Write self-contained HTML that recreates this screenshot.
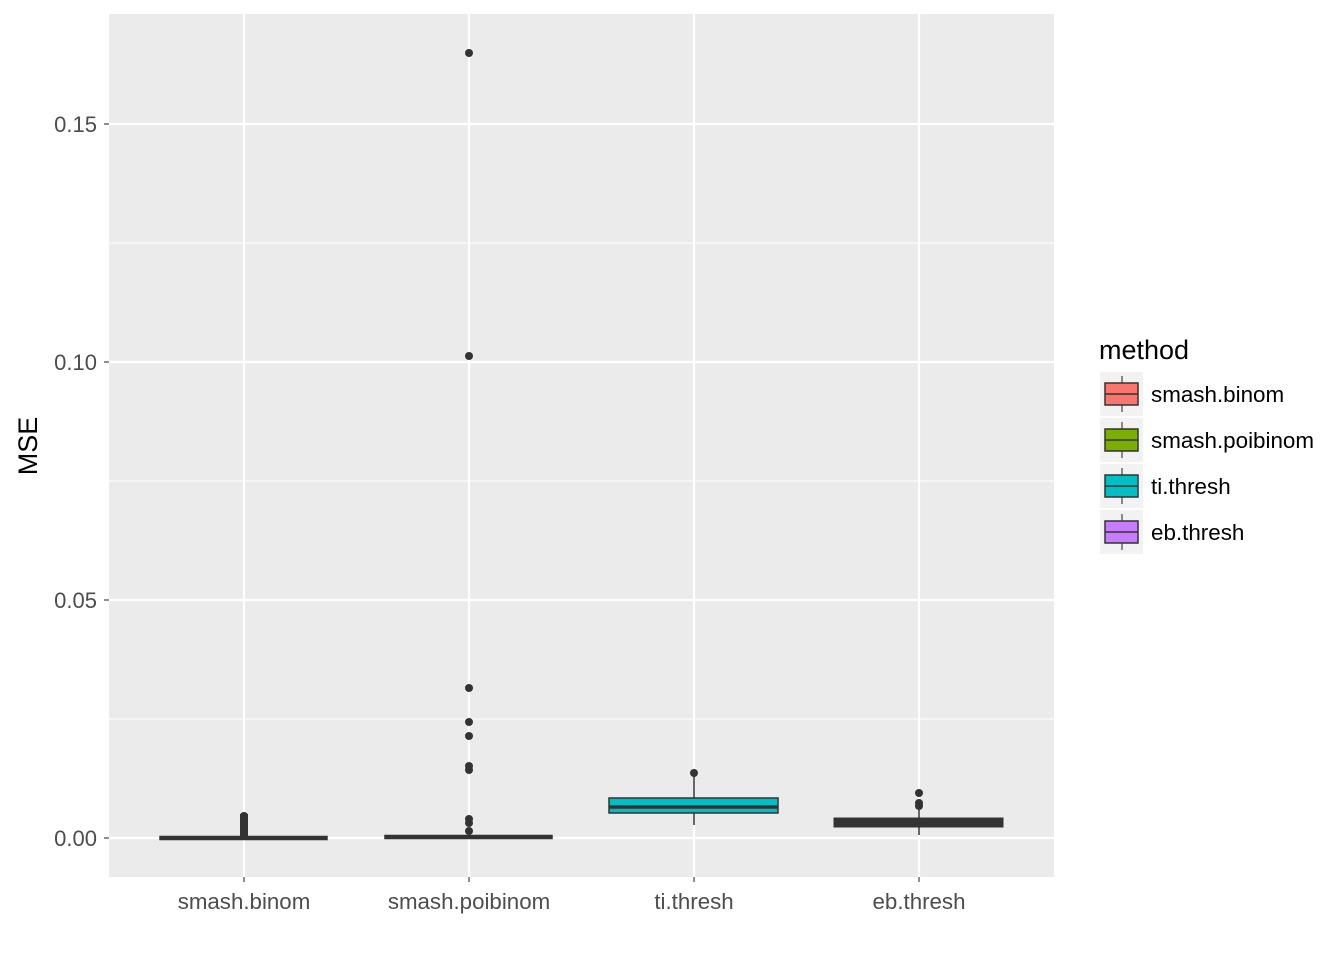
<!DOCTYPE html>
<html><head><style>body{margin:0;background:#fff}</style></head><body>
<svg width="1344" height="960" xmlns="http://www.w3.org/2000/svg" font-family="Liberation Sans, Arial, sans-serif">
<rect x="109" y="14" width="945" height="863" fill="#ebebeb"/>
<g stroke="#fff" stroke-width="1.1">
<line x1="109" x2="1054" y1="719" y2="719"/><line x1="109" x2="1054" y1="481" y2="481"/><line x1="109" x2="1054" y1="243" y2="243"/>
</g>
<g stroke="#fff" stroke-width="2.2">
<line x1="109" x2="1054" y1="838" y2="838"/><line x1="109" x2="1054" y1="600" y2="600"/><line x1="109" x2="1054" y1="362" y2="362"/><line x1="109" x2="1054" y1="124" y2="124"/>
<line y1="14" y2="877" x1="244" x2="244"/><line y1="14" y2="877" x1="469" x2="469"/><line y1="14" y2="877" x1="694" x2="694"/><line y1="14" y2="877" x1="919" x2="919"/>
</g>
<g fill="#333" stroke="#333">
<rect x="160" y="836.5" width="167" height="3" stroke-width="1.5"/>
<rect x="240" y="814" width="8" height="24" stroke="none"/>
<circle cx="244" cy="816" r="4" stroke="none"/>
<rect x="385" y="835.5" width="167" height="3" stroke-width="1.5"/>
<circle cx="469" cy="53" r="4" stroke="none"/>
<circle cx="469" cy="356" r="4" stroke="none"/>
<circle cx="469" cy="688" r="4" stroke="none"/>
<circle cx="469" cy="722" r="4" stroke="none"/>
<circle cx="469" cy="736" r="4" stroke="none"/>
<circle cx="469" cy="766" r="4" stroke="none"/>
<circle cx="469" cy="770" r="4" stroke="none"/>
<circle cx="469" cy="819" r="4" stroke="none"/>
<circle cx="469" cy="823" r="4" stroke="none"/>
<circle cx="469" cy="831" r="4" stroke="none"/>
<line x1="694" x2="694" y1="773" y2="798" stroke-width="1.5"/>
<line x1="694" x2="694" y1="813" y2="825" stroke-width="1.5"/>
<rect x="609" y="798" width="169" height="15" fill="#00bfc4" stroke-width="1.5"/>
<line x1="609" x2="778" y1="807" y2="807" stroke-width="3.5"/>
<circle cx="694" cy="773" r="4" stroke="none"/>
<line x1="919" x2="919" y1="810" y2="835" stroke-width="1.5"/>
<rect x="834" y="818" width="169" height="9" stroke-width="1"/>
<circle cx="919" cy="793" r="4" stroke="none"/>
<circle cx="919" cy="803" r="4" stroke="none"/>
<circle cx="919" cy="806" r="4" stroke="none"/>
</g>
<g stroke="#333" stroke-width="1.1">
<line x1="104" x2="109" y1="838" y2="838"/><line x1="104" x2="109" y1="600" y2="600"/><line x1="104" x2="109" y1="362" y2="362"/><line x1="104" x2="109" y1="124" y2="124"/>
<line y1="877" y2="882" x1="244" x2="244"/><line y1="877" y2="882" x1="469" x2="469"/><line y1="877" y2="882" x1="694" x2="694"/><line y1="877" y2="882" x1="919" x2="919"/>
</g>
<g fill="#4d4d4d" font-size="22" text-anchor="end">
<text x="97" y="846">0.00</text><text x="97" y="608">0.05</text><text x="97" y="370">0.10</text><text x="97" y="132">0.15</text>
</g>
<g fill="#4d4d4d" font-size="22.3" text-anchor="middle">
<text x="244" y="909">smash.binom</text><text x="469" y="909">smash.poibinom</text><text x="694" y="909">ti.thresh</text><text x="919" y="909">eb.thresh</text>
</g>
<text transform="translate(37,446) rotate(-90)" font-size="27" text-anchor="middle" fill="#000">MSE</text>
<text x="1099" y="359" font-size="27" fill="#000">method</text>
<g stroke="#333" stroke-width="1.1">
<rect x="1100" y="372" width="43" height="44" fill="#f2f2f2" stroke="none"/>
<line x1="1122" x2="1122" y1="376" y2="412"/>
<rect x="1105" y="383" width="33" height="22" fill="#f8766d" stroke-width="1.5"/><line x1="1105" x2="1138" y1="394" y2="394" stroke-width="1.5"/>
<rect x="1100" y="418" width="43" height="44" fill="#f2f2f2" stroke="none"/>
<line x1="1122" x2="1122" y1="422" y2="458"/>
<rect x="1105" y="429" width="33" height="22" fill="#7cae00" stroke-width="1.5"/><line x1="1105" x2="1138" y1="440" y2="440" stroke-width="1.5"/>
<rect x="1100" y="464" width="43" height="44" fill="#f2f2f2" stroke="none"/>
<line x1="1122" x2="1122" y1="468" y2="504"/>
<rect x="1105" y="475" width="33" height="22" fill="#00bfc4" stroke-width="1.5"/><line x1="1105" x2="1138" y1="486" y2="486" stroke-width="1.5"/>
<rect x="1100" y="510" width="43" height="44" fill="#f2f2f2" stroke="none"/>
<line x1="1122" x2="1122" y1="514" y2="550"/>
<rect x="1105" y="521" width="33" height="22" fill="#c77cff" stroke-width="1.5"/><line x1="1105" x2="1138" y1="532" y2="532" stroke-width="1.5"/>
</g>
<g font-size="22.4" fill="#000">
<text x="1151" y="402">smash.binom</text><text x="1151" y="448">smash.poibinom</text><text x="1151" y="494">ti.thresh</text><text x="1151" y="540">eb.thresh</text>
</g>
</svg>
</body></html>
